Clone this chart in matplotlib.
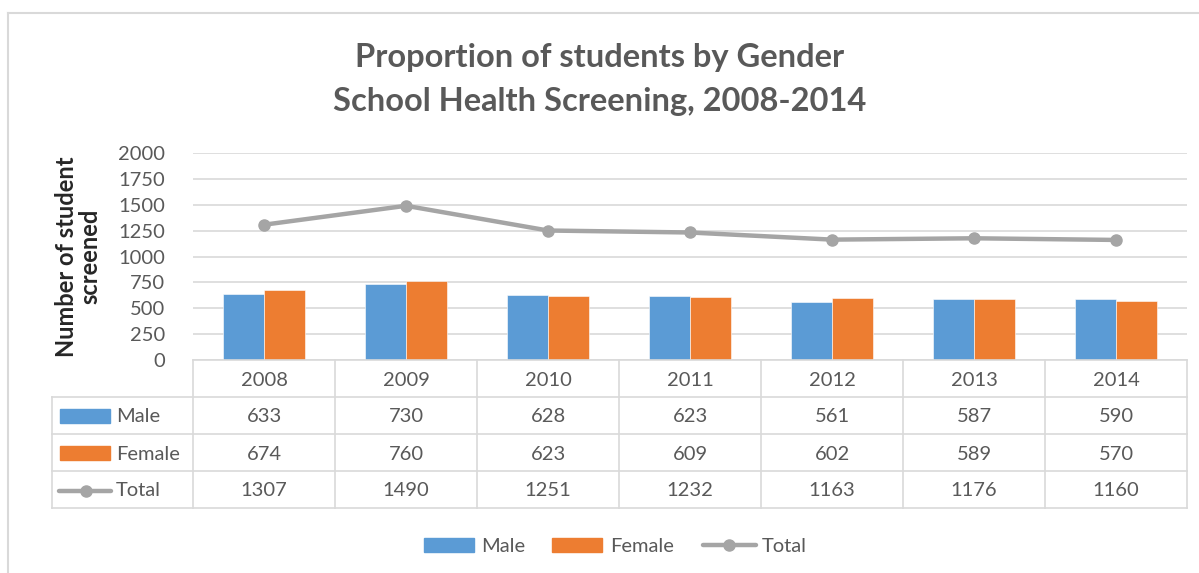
import matplotlib
matplotlib.use('Agg')
import matplotlib.pyplot as plt
from matplotlib.lines import Line2D
from matplotlib.patches import Rectangle
import numpy as np

years = ['2008', '2009', '2010', '2011', '2012', '2013', '2014']
male = [633, 730, 628, 623, 561, 587, 590]
female = [674, 760, 623, 609, 602, 589, 570]
total = [1307, 1490, 1251, 1232, 1163, 1176, 1160]

blue = '#5B9BD5'
orange = '#ED7D31'
grey = '#A5A5A5'
txt = '#595959'
grid = '#D9D9D9'

plt.rcParams['font.family'] = ['Lato', 'DejaVu Sans']

W, H = 1199, 573
fig = plt.figure(figsize=(W / 100, H / 100), dpi=100)

def fx(px):
    return px / W

def fy(py):
    return 1 - py / H

# chart border (cut off at right / bottom)
fig.add_artist(Line2D([fx(8), 1], [fy(13), fy(13)], color=grid, lw=1.5))
fig.add_artist(Line2D([fx(8), fx(8)], [fy(13), 0], color=grid, lw=1.5))

left, right, top, bottom = 193, 1187, 153, 360
ax = fig.add_axes([fx(left), fy(bottom), fx(right - left), (bottom - top) / H])

x = np.arange(len(years))
bw = 0.29
ax.bar(x - bw / 2, male, bw, color=blue, edgecolor='white', linewidth=0.4, zorder=2)
ax.bar(x + bw / 2, female, bw, color=orange, edgecolor='white', linewidth=0.4, zorder=2)
ax.plot(x, total, color=grey, lw=3.2, marker='o', markersize=8, zorder=3)

ax.set_xlim(-0.5, len(years) - 0.5)
ax.set_ylim(0, 2000)
ax.set_yticks(range(0, 2001, 250))
ax.tick_params(axis='y', length=0, labelsize=14.5, labelcolor=txt, pad=20)
ax.set_xticks([])
ax.grid(axis='y', color=grid, lw=1.2, zorder=0)
for s in ['top', 'right', 'left']:
    ax.spines[s].set_visible(False)
ax.spines['bottom'].set_color(grid)
ax.spines['bottom'].set_linewidth(1.2)

ax.set_ylabel('Number of student\nscreened', fontsize=17, fontweight='bold',
              color='#262626', labelpad=12, linespacing=1.05)

# data table below the axes
trans = ax.get_xaxis_transform()
ph = bottom - top
def ay(py):
    return (bottom - py) / ph

rows = [397, 434, 471, 508]
lc = dict(color=grid, lw=1.2, clip_on=False)
for r in rows:
    fig.add_artist(Line2D([fx(52), fx(right)], [fy(r), fy(r)], **lc))
for i in range(len(years) + 1):
    ax.plot([i - 0.5, i - 0.5], [0, ay(508)], transform=trans, **lc)
fig.add_artist(Line2D([fx(52), fx(52)], [fy(397), fy(508)], **lc))

fs = 14.5
for i, yr in enumerate(years):
    ax.text(i, ay(380), yr, transform=trans, ha='center', va='center', fontsize=fs, color=txt)
    ax.text(i, ay(417), str(male[i]), transform=trans, ha='center', va='center', fontsize=fs, color=txt)
    ax.text(i, ay(454), str(female[i]), transform=trans, ha='center', va='center', fontsize=fs, color=txt)
    ax.text(i, ay(491), str(total[i]), transform=trans, ha='center', va='center', fontsize=fs, color=txt)

# row labels with keys
fig.add_artist(Rectangle((fx(60), fy(423)), fx(50), 14 / H, color=blue))
fig.add_artist(Rectangle((fx(60), fy(460)), fx(50), 14 / H, color=orange))
fig.add_artist(Line2D([fx(59), fx(111)], [fy(491), fy(491)], color=grey, lw=3.2,
                      solid_capstyle='round'))
fig.add_artist(Line2D([fx(86)], [fy(491)], color=grey, marker='o', markersize=8, lw=0))
for lab, py in [('Male', 417), ('Female', 454), ('Total', 491)]:
    fig.text(fx(116), fy(py), lab, ha='left', va='center', fontsize=fs, color=txt)

# title
fig.text(0.5, fy(57), 'Proportion of students by Gender', ha='center', va='center',
         fontsize=23.5, fontweight='bold', color=txt)
fig.text(0.5, fy(101), 'School Health Screening, 2008-2014', ha='center', va='center',
         fontsize=23.5, fontweight='bold', color=txt)

# bottom legend
fig.add_artist(Rectangle((fx(424), fy(552)), fx(50), 14 / H, color=blue))
fig.text(fx(481), fy(546), 'Male', ha='left', va='center', fontsize=fs, color=txt)
fig.add_artist(Rectangle((fx(552), fy(552)), fx(50), 14 / H, color=orange))
fig.text(fx(610), fy(546), 'Female', ha='left', va='center', fontsize=fs, color=txt)
fig.add_artist(Line2D([fx(703), fx(756)], [fy(545), fy(545)], color=grey, lw=3.2,
                      solid_capstyle='round'))
fig.add_artist(Line2D([fx(729)], [fy(545)], color=grey, marker='o', markersize=8, lw=0))
fig.text(fx(762), fy(546), 'Total', ha='left', va='center', fontsize=fs, color=txt)

fig.savefig('out.png', dpi=100)
